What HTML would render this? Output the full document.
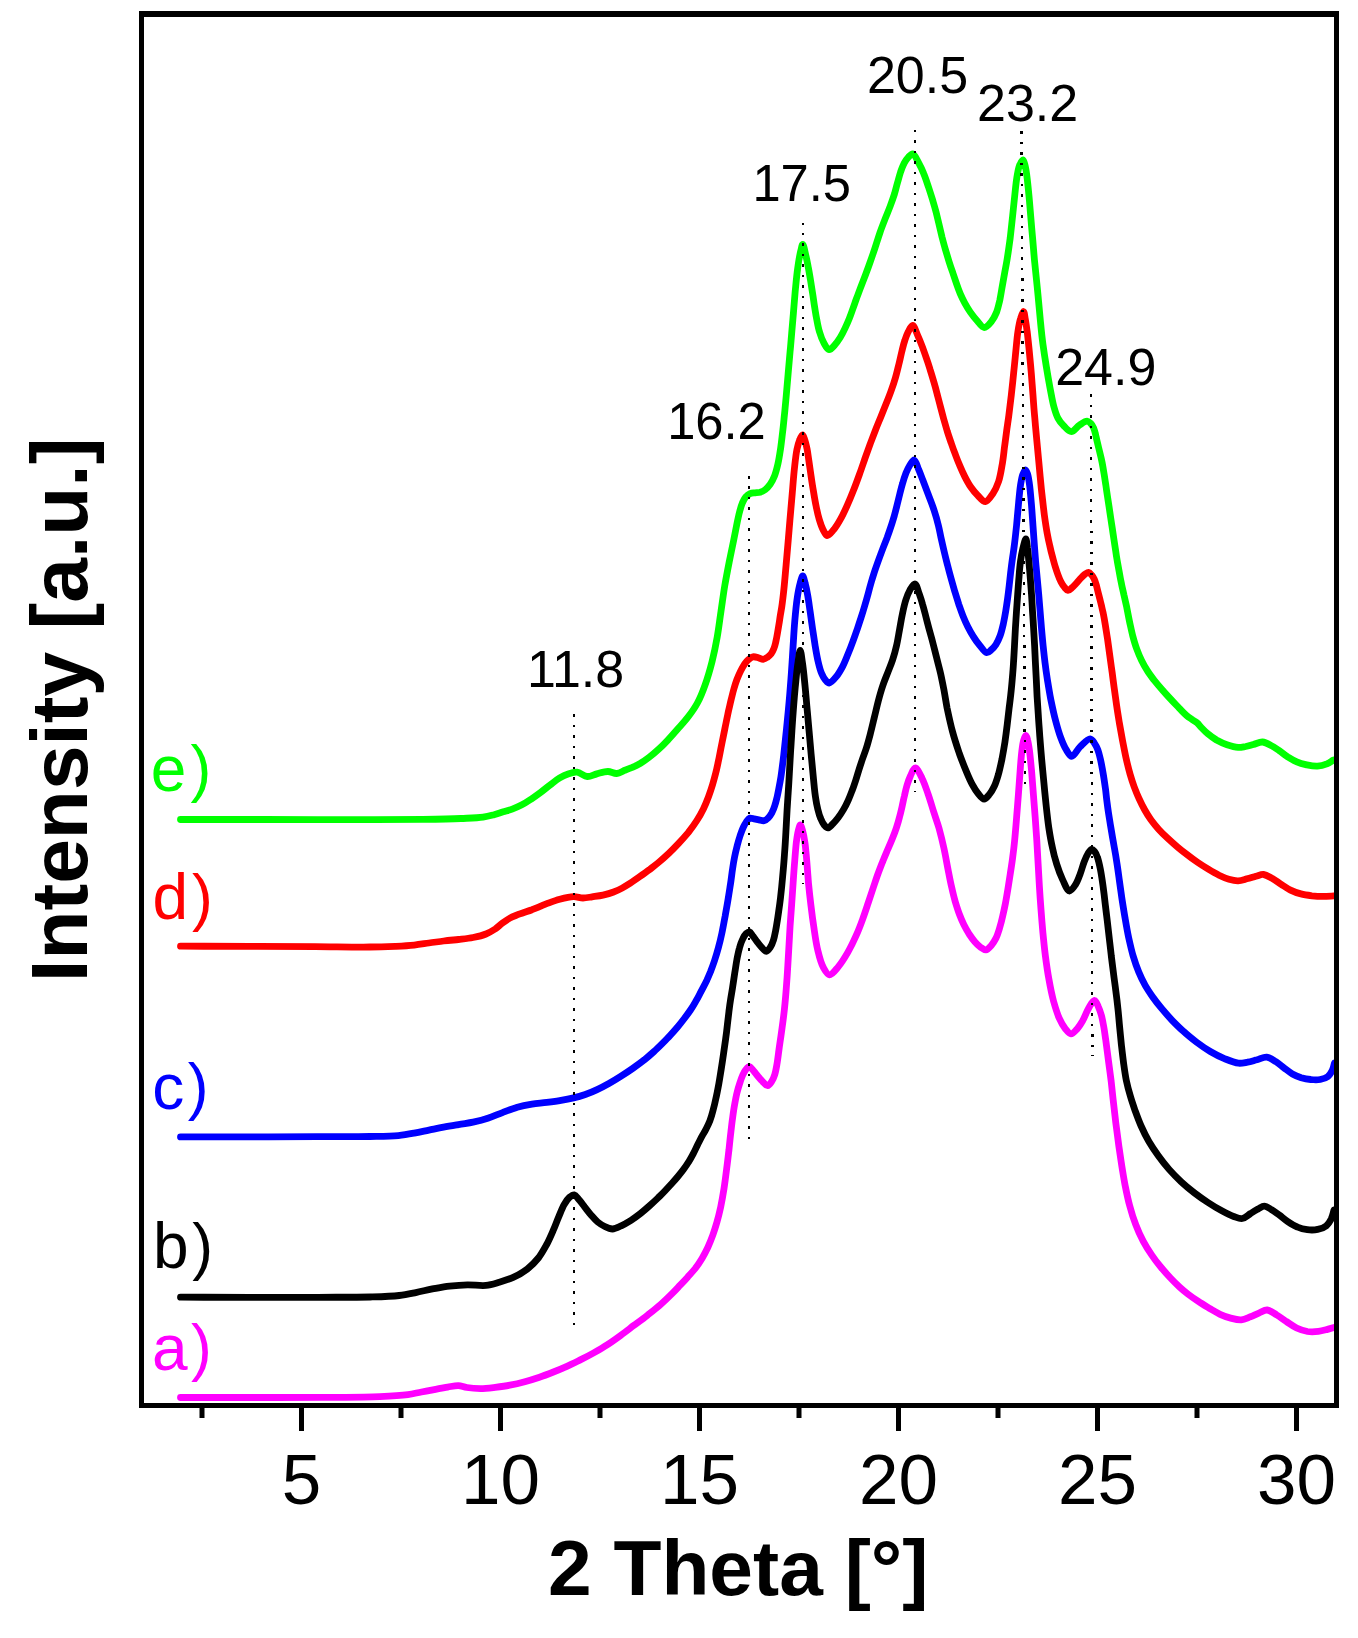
<!DOCTYPE html>
<html><head><meta charset="utf-8"><title>XRD patterns</title>
<style>
html,body{margin:0;padding:0;background:#fff;}
svg{display:block;}
text{font-family:"Liberation Sans",sans-serif;}
</style></head>
<body>
<svg width="1358" height="1638" viewBox="0 0 1358 1638">
<rect width="1358" height="1638" fill="#fff"/>
<defs><clipPath id="pc"><rect x="144" y="17" width="1190" height="1386"/></clipPath></defs>
<g clip-path="url(#pc)" fill="none" stroke-width="6.8" stroke-linejoin="round" stroke-linecap="round">
<path d="M180.5 819.5C203.7 819.5 227.1 819.5 250.1 819.5C272.8 819.5 295.9 819.6 317.5 819.6C337.4 819.6 356.7 819.6 374.9 819.6C391.5 819.6 407.3 819.6 422.3 819.4C435.8 819.2 449.7 819.0 460.8 818.5C469.2 818.1 477.0 818.0 483.1 817.1C487.4 816.5 490.6 815.6 494.1 814.7C497.4 813.8 500.3 812.7 503.3 811.8C506.3 810.9 509.2 810.2 512.2 809.1C515.2 808.0 518.3 806.7 521.4 805.1C524.6 803.5 527.8 801.4 530.9 799.3C534.2 797.2 537.3 794.9 540.5 792.5C543.7 790.1 546.9 787.4 550.1 785.0C553.2 782.6 556.2 780.0 559.3 778.1C562.2 776.4 565.1 774.9 568.1 773.9C571.0 772.9 574.0 771.9 577.0 772.2C580.4 772.5 583.9 776.3 587.3 776.5C590.5 776.7 593.5 774.7 596.8 773.9C600.4 773.0 604.4 771.5 607.9 771.5C611.0 771.5 613.8 773.7 616.7 773.5C619.5 773.3 622.3 771.3 625.0 770.2C627.5 769.3 629.8 768.4 632.3 767.4C634.9 766.2 637.4 765.0 640.1 763.5C643.1 761.7 646.3 759.4 649.3 757.1C652.5 754.7 655.6 752.1 658.6 749.3C661.7 746.5 664.6 743.5 667.6 740.3C670.9 736.8 674.3 732.9 677.7 729.0C681.2 725.1 685.0 721.1 688.2 716.8C691.5 712.5 694.7 708.1 697.4 703.0C700.4 697.5 702.9 691.2 705.2 684.6C707.8 677.5 710.0 669.7 712.0 661.9C714.0 653.8 715.7 645.5 717.2 637.1C718.7 628.6 719.7 619.8 721.0 611.2C722.3 602.6 723.4 593.8 724.8 585.5C726.2 577.5 727.7 569.7 729.2 562.0C730.7 554.6 732.3 547.0 733.7 540.1C735.0 533.7 736.2 527.3 737.3 521.9C738.2 517.7 738.9 514.0 739.9 510.6C740.7 507.7 741.4 505.2 742.4 502.9C743.4 500.7 744.4 498.4 745.8 496.9C747.0 495.5 748.5 494.3 750.1 493.6C751.6 493.0 753.4 493.0 755.0 492.8C756.7 492.6 758.5 492.7 760.2 492.2C761.9 491.6 763.7 490.8 765.3 489.6C767.1 488.3 768.7 486.4 770.2 484.3C771.9 481.9 773.3 479.0 774.5 476.0C775.9 472.4 776.9 468.3 777.9 464.0C779.0 459.2 779.8 453.7 780.6 448.4C781.4 442.8 782.0 437.0 782.7 431.3C783.4 425.6 783.9 420.0 784.5 414.2C785.1 408.3 785.6 402.5 786.2 396.2C786.8 389.3 787.4 382.0 788.1 374.3C788.8 365.8 789.6 356.4 790.5 347.2C791.3 337.6 792.2 327.4 793.0 317.9C793.8 308.8 794.5 299.4 795.2 291.3C795.9 284.3 796.5 277.7 797.2 272.0C797.8 267.4 798.3 263.3 799.0 259.5C799.6 256.3 800.1 253.4 800.8 250.7C801.4 248.4 802.0 244.5 802.7 244.5C803.7 244.5 805.0 252.1 806.0 256.1C807.0 260.1 807.7 264.3 808.5 268.5C809.3 272.7 810.0 277.0 810.7 281.3C811.4 285.6 812.0 289.8 812.7 294.1C813.4 298.4 813.9 302.6 814.6 306.9C815.3 311.2 815.9 315.5 816.8 319.7C817.6 323.9 818.3 328.2 819.6 332.1C820.7 335.8 821.9 339.4 823.6 342.4C825.2 345.2 827.1 349.5 829.1 349.7C830.9 349.9 833.1 346.8 834.8 344.9C836.8 342.8 838.5 340.2 840.2 337.5C842.0 334.6 843.6 331.3 845.1 328.1C846.6 324.9 848.1 321.5 849.4 318.2C850.7 315.0 851.8 311.7 853.0 308.4C854.2 305.2 855.2 302.0 856.4 298.8C857.6 295.6 858.8 292.5 860.0 289.2C861.3 285.7 862.7 282.1 864.1 278.5C865.5 274.7 867.0 270.9 868.4 267.0C869.8 263.0 871.3 259.0 872.6 255.0C874.0 251.0 875.3 247.1 876.5 243.2C877.8 239.3 879.0 235.5 880.3 231.6C881.8 227.4 883.5 223.1 885.1 218.9C886.8 214.6 888.7 210.2 890.3 205.9C891.8 201.9 893.2 197.9 894.5 193.9C895.6 190.1 896.5 186.2 897.6 182.4C898.6 178.9 899.5 175.3 900.6 172.0C901.7 168.9 902.8 165.8 904.2 163.2C905.5 160.9 906.8 158.7 908.4 157.1C909.7 155.7 911.4 153.6 912.8 153.9C914.9 154.3 917.0 159.9 918.8 163.2C920.7 166.6 922.4 170.3 923.9 174.1C925.6 178.1 927.0 182.6 928.4 186.8C929.8 191.1 931.2 195.4 932.5 199.6C933.7 203.7 934.9 207.7 936.0 211.8C937.0 215.9 938.0 220.0 939.0 224.2C940.0 228.5 941.0 232.8 942.0 237.0C943.1 241.2 944.2 245.4 945.4 249.5C946.6 253.5 947.8 257.5 949.0 261.4C950.2 265.2 951.5 269.0 952.8 272.7C954.0 276.3 955.2 279.9 956.4 283.4C957.6 286.9 958.8 290.3 960.2 293.6C961.6 296.8 963.1 300.0 964.8 303.1C966.5 306.2 968.3 309.2 970.3 312.1C972.3 314.9 974.4 317.7 976.7 320.2C979.0 322.8 981.7 327.4 984.2 327.5C986.6 327.6 989.5 323.9 991.5 321.4C993.6 318.8 995.2 315.5 996.6 312.1C998.0 308.5 998.8 304.3 999.8 300.2C1000.7 295.9 1001.4 291.2 1002.2 286.6C1003.0 282.0 1003.8 277.4 1004.7 272.6C1005.6 267.7 1006.6 262.8 1007.4 257.4C1008.4 251.4 1009.3 244.7 1010.2 238.0C1011.0 230.9 1011.8 223.3 1012.6 216.0C1013.4 208.7 1014.1 201.0 1014.9 194.0C1015.6 187.5 1016.2 180.7 1017.2 175.4C1017.9 171.3 1018.5 167.5 1019.8 164.8C1020.7 162.8 1022.1 159.9 1023.0 160.0C1023.8 160.1 1024.3 162.8 1024.9 164.8C1025.7 167.6 1026.2 171.3 1026.8 175.4C1027.5 180.7 1028.2 187.5 1028.8 194.0C1029.5 201.0 1030.1 208.7 1030.7 216.0C1031.3 223.3 1031.9 230.7 1032.6 238.0C1033.2 245.2 1033.8 252.4 1034.4 259.5C1035.1 266.4 1035.8 273.2 1036.5 280.0C1037.2 286.8 1037.9 293.6 1038.5 300.5C1039.2 307.6 1039.8 314.8 1040.5 322.0C1041.2 329.3 1041.9 336.7 1042.9 344.0C1043.9 351.3 1045.0 358.6 1046.2 365.9C1047.4 373.3 1048.7 380.9 1050.0 387.9C1051.3 394.3 1052.3 401.0 1053.8 406.4C1055.0 410.8 1056.1 414.7 1057.9 418.1C1059.4 421.0 1061.4 423.4 1063.6 425.6C1065.8 427.9 1068.7 431.6 1071.3 431.6C1074.0 431.6 1076.7 426.9 1079.5 425.1C1082.0 423.5 1085.0 421.1 1087.1 421.2C1088.6 421.3 1089.7 422.4 1090.8 423.5C1091.9 424.6 1092.8 426.2 1093.6 427.9C1094.4 429.7 1094.9 432.0 1095.5 434.2C1096.1 436.7 1096.6 439.3 1097.3 442.1C1098.0 445.2 1098.9 448.6 1099.7 452.0C1100.6 455.6 1101.5 459.3 1102.2 463.0C1102.9 466.7 1103.5 470.3 1104.1 474.0C1104.7 477.6 1105.2 481.3 1105.8 484.9C1106.3 488.6 1106.9 492.2 1107.4 495.9C1108.0 499.6 1108.5 503.2 1109.1 506.9C1109.6 510.6 1110.2 514.2 1110.7 517.9C1111.3 521.6 1111.8 525.2 1112.4 528.9C1112.9 532.6 1113.5 536.2 1114.0 539.9C1114.6 543.6 1115.1 547.2 1115.7 550.9C1116.2 554.6 1116.8 558.2 1117.4 561.9C1118.1 565.6 1118.7 569.2 1119.4 572.9C1120.0 576.5 1120.7 580.2 1121.5 583.8C1122.2 587.5 1123.1 591.0 1123.9 594.8C1124.8 598.8 1125.7 602.8 1126.7 607.1C1127.6 611.7 1128.5 616.7 1129.5 621.5C1130.6 626.4 1131.6 631.4 1132.8 636.1C1134.0 640.6 1135.2 644.9 1136.8 649.1C1138.2 653.0 1139.8 656.8 1141.6 660.4C1143.3 663.9 1145.2 667.3 1147.3 670.6C1149.4 674.0 1151.8 677.1 1154.2 680.3C1156.7 683.5 1159.4 686.6 1162.2 689.7C1164.9 692.9 1167.8 696.0 1170.7 699.1C1173.5 702.2 1176.5 705.3 1179.2 708.2C1181.8 710.8 1184.3 713.6 1186.7 715.6C1188.7 717.3 1190.7 718.5 1192.5 719.8C1194.1 720.8 1195.5 721.5 1196.9 722.7C1198.5 724.0 1199.7 725.8 1201.3 727.5C1203.2 729.5 1205.3 731.7 1207.7 733.7C1210.3 735.9 1213.4 738.1 1216.5 740.0C1219.8 741.8 1223.4 743.6 1227.0 744.8C1230.6 746.0 1234.7 747.2 1238.1 747.4C1240.8 747.6 1243.2 746.9 1245.7 746.5C1248.3 746.0 1250.7 745.2 1253.4 744.5C1256.3 743.7 1259.6 741.8 1262.5 742.0C1265.4 742.2 1268.3 744.0 1271.0 745.5C1273.9 746.9 1276.5 748.9 1279.2 750.7C1282.1 752.7 1284.8 755.0 1287.7 756.9C1290.6 758.7 1293.6 760.5 1296.8 761.9C1299.9 763.2 1303.3 764.1 1306.7 764.9C1310.1 765.6 1313.9 766.4 1317.4 766.2C1320.7 766.0 1324.1 765.0 1326.9 763.9C1329.4 762.8 1331.3 761.3 1333.5 760.0" stroke="#00ff00"/>
<path d="M180.5 946.2C203.7 946.2 227.3 946.3 250.1 946.3C272.1 946.4 294.3 946.5 315.0 946.6C334.1 946.7 355.1 947.2 370.0 947.0C380.2 946.9 387.9 946.6 395.8 946.3C402.5 946.0 408.4 945.7 414.2 945.1C419.4 944.5 424.0 943.7 428.9 943.0C433.8 942.4 438.7 941.6 443.6 941.0C448.5 940.4 453.5 940.0 458.4 939.5C463.3 938.9 468.4 938.4 473.1 937.5C477.6 936.6 482.1 935.6 486.0 934.0C489.4 932.7 492.4 930.8 495.2 929.0C497.8 927.2 500.0 924.9 502.5 923.1C504.9 921.3 507.2 919.6 509.9 918.1C512.7 916.6 515.8 915.6 519.1 914.2C523.0 912.7 527.6 911.3 532.0 909.7C536.6 907.9 541.5 905.7 546.2 903.9C550.8 902.2 555.2 900.4 559.8 899.2C564.3 898.0 569.4 896.7 573.6 896.6C577.0 896.5 579.9 898.0 583.0 898.0C586.1 898.0 588.9 897.3 592.1 896.8C595.6 896.3 599.4 895.9 603.0 895.1C606.6 894.3 610.3 893.3 613.6 892.0C616.7 890.9 619.4 889.6 622.1 888.1C624.9 886.6 627.5 885.0 630.3 883.2C633.3 881.2 636.4 879.0 639.5 876.8C642.8 874.5 646.1 872.2 649.3 869.8C652.6 867.2 655.9 864.7 659.1 862.0C662.4 859.2 665.7 856.2 668.9 853.2C672.2 850.0 675.4 846.7 678.6 843.3C681.9 839.9 685.1 836.3 688.2 832.6C691.2 828.8 694.1 824.9 696.7 820.8C699.2 816.9 701.5 812.8 703.5 808.7C705.5 804.6 707.1 800.5 708.6 796.5C710.1 792.5 711.4 788.6 712.6 784.6C713.7 780.8 714.7 777.1 715.7 773.2C716.7 769.3 717.5 765.2 718.4 761.1C719.3 756.9 720.1 752.6 720.9 748.3C721.8 744.0 722.6 739.8 723.5 735.5C724.4 731.2 725.2 726.8 726.1 722.6C726.9 718.5 727.8 714.4 728.6 710.5C729.5 706.7 730.3 703.0 731.2 699.4C732.1 695.8 732.9 692.3 733.9 688.9C734.8 685.7 735.8 682.5 736.9 679.5C738.0 676.7 739.1 674.0 740.4 671.4C741.6 668.9 743.0 666.4 744.4 664.3C745.7 662.5 747.2 660.7 748.7 659.4C750.0 658.2 751.4 657.1 753.0 656.8C754.7 656.5 757.1 657.5 758.9 658.0C760.4 658.4 761.8 659.4 763.2 659.3C764.6 659.2 766.1 658.2 767.4 657.3C768.8 656.4 770.0 655.2 771.1 653.9C772.2 652.3 773.1 650.5 773.9 648.5C774.8 646.4 775.3 643.9 775.9 641.4C776.5 638.7 777.0 635.9 777.5 633.0C778.0 630.1 778.5 627.0 779.0 624.0C779.5 621.0 779.9 617.8 780.4 614.9C780.9 612.1 781.3 609.7 781.8 606.6C782.4 602.6 782.9 598.3 783.5 592.9C784.4 585.3 785.2 575.0 786.1 565.1C787.1 553.8 788.2 540.7 789.2 528.7C790.2 516.9 791.2 504.7 792.2 493.9C793.0 484.3 793.7 474.8 794.6 466.9C795.3 460.4 795.9 454.5 796.9 449.6C797.7 445.9 798.5 442.7 799.6 440.1C800.4 438.0 801.6 434.8 802.5 434.8C803.4 434.8 804.1 438.0 804.8 439.9C805.7 442.4 806.3 445.4 807.0 448.6C807.8 452.5 808.3 457.2 809.0 461.6C809.7 466.4 810.4 471.4 811.1 476.3C811.8 481.2 812.5 486.0 813.4 490.9C814.2 495.8 815.0 500.8 816.0 505.6C816.9 510.2 818.0 515.1 819.2 519.3C820.3 523.0 821.5 526.7 823.0 529.6C824.2 531.9 825.5 535.4 827.2 535.6C829.1 535.8 831.7 532.0 833.8 529.6C836.2 526.7 838.4 523.0 840.5 519.2C842.9 515.0 845.1 510.1 847.2 505.4C849.4 500.5 851.5 495.4 853.5 490.3C855.6 485.1 857.5 479.8 859.4 474.5C861.3 469.3 863.1 463.9 864.9 458.7C866.7 453.6 868.5 448.5 870.3 443.6C872.1 438.8 873.9 434.1 875.7 429.5C877.4 425.0 879.3 420.7 881.0 416.4C882.8 412.1 884.5 407.9 886.2 403.6C887.9 399.4 889.6 395.2 891.1 390.9C892.7 386.5 894.2 382.0 895.5 377.5C896.8 372.9 897.9 368.2 899.0 363.7C900.1 359.4 900.9 355.2 901.9 351.2C902.8 347.5 903.6 343.9 904.8 340.5C905.8 337.4 906.9 334.4 908.2 331.8C909.5 329.4 911.2 325.3 912.6 325.4C914.3 325.5 916.2 332.1 917.8 335.6C919.4 339.1 920.8 342.7 922.2 346.4C923.6 350.1 924.9 353.9 926.2 357.7C927.6 361.6 928.9 365.6 930.1 369.6C931.4 373.6 932.6 377.7 933.8 381.8C935.0 385.8 936.1 389.9 937.1 393.9C938.2 398.0 939.3 402.0 940.3 406.1C941.4 410.2 942.5 414.4 943.6 418.6C944.8 422.8 946.0 427.0 947.2 431.1C948.5 435.1 949.8 439.1 951.2 443.0C952.5 446.9 953.9 450.8 955.4 454.6C956.8 458.4 958.3 462.2 959.9 465.9C961.4 469.5 963.0 473.1 964.8 476.6C966.6 480.1 968.4 483.6 970.6 486.8C972.7 489.8 975.0 492.8 977.6 495.3C980.0 497.7 982.9 501.8 985.4 501.6C988.0 501.4 990.8 496.7 992.9 493.6C995.3 490.1 997.1 485.9 998.6 481.5C1000.2 476.7 1001.1 471.1 1002.0 465.6C1003.1 459.9 1003.7 453.7 1004.4 447.9C1005.2 442.3 1005.9 436.8 1006.6 431.3C1007.3 425.8 1008.2 420.7 1008.9 414.9C1009.7 408.7 1010.5 402.0 1011.3 395.2C1012.1 388.1 1012.9 380.6 1013.6 373.3C1014.4 366.0 1015.1 358.4 1015.8 351.3C1016.5 344.6 1017.0 337.6 1017.9 331.7C1018.6 326.9 1019.3 322.4 1020.5 318.7C1021.3 315.9 1022.7 311.4 1023.5 311.5C1024.3 311.6 1024.7 315.9 1025.2 318.7C1025.9 322.4 1026.5 326.9 1027.2 331.7C1027.9 337.6 1028.6 344.6 1029.3 351.3C1030.0 358.4 1030.7 366.0 1031.3 373.3C1031.9 380.6 1032.4 387.9 1033.0 395.2C1033.5 402.5 1034.0 409.7 1034.7 416.9C1035.3 424.1 1035.9 431.0 1036.6 438.3C1037.3 446.0 1038.0 453.7 1038.8 461.8C1039.6 470.6 1040.5 480.3 1041.4 489.3C1042.4 498.1 1043.4 507.5 1044.4 515.4C1045.3 521.9 1046.2 528.0 1047.2 533.4C1048.0 537.9 1048.8 541.7 1049.8 545.7C1050.6 549.5 1051.5 553.2 1052.5 556.7C1053.4 560.1 1054.2 563.4 1055.2 566.5C1056.1 569.4 1057.0 572.2 1058.0 574.9C1058.9 577.4 1059.9 579.9 1061.1 582.1C1062.1 584.0 1063.2 585.9 1064.5 587.3C1065.6 588.6 1066.7 590.3 1068.0 590.4C1069.3 590.5 1070.8 588.8 1072.1 587.6C1073.6 586.4 1075.0 584.8 1076.4 583.3C1077.9 581.7 1079.3 579.7 1080.8 578.2C1082.2 576.7 1083.6 575.3 1084.9 574.3C1086.1 573.5 1087.5 572.3 1088.6 572.4C1089.8 572.5 1090.9 574.1 1091.8 575.2C1092.8 576.4 1093.6 577.8 1094.3 579.3C1095.1 581.1 1095.7 583.1 1096.3 585.1C1096.9 587.2 1097.4 589.5 1098.0 591.8C1098.6 594.2 1099.2 596.5 1099.8 598.9C1100.4 601.3 1101.0 603.7 1101.6 606.1C1102.1 608.5 1102.6 610.6 1103.2 613.2C1103.8 616.2 1104.4 619.4 1105.0 623.1C1105.8 627.7 1106.6 633.4 1107.5 638.8C1108.3 644.5 1109.1 650.5 1109.9 656.3C1110.7 661.9 1111.4 667.3 1112.2 672.8C1112.9 678.3 1113.6 683.9 1114.4 689.4C1115.2 694.9 1115.9 700.5 1116.7 706.0C1117.5 711.5 1118.4 717.0 1119.3 722.6C1120.3 728.4 1121.4 734.4 1122.5 740.4C1123.7 746.5 1124.9 752.9 1126.2 758.8C1127.4 764.1 1128.7 769.3 1130.1 774.2C1131.4 778.6 1132.7 782.8 1134.2 786.9C1135.7 790.9 1137.2 794.7 1139.0 798.5C1140.7 802.2 1142.5 805.9 1144.5 809.5C1146.5 813.1 1148.7 816.7 1151.1 820.0C1153.5 823.3 1156.1 826.4 1158.8 829.4C1161.6 832.5 1164.6 835.4 1167.7 838.3C1170.8 841.2 1174.0 844.1 1177.3 846.8C1180.6 849.6 1183.9 852.2 1187.3 854.8C1190.6 857.4 1194.0 859.9 1197.5 862.3C1201.0 864.7 1204.7 867.0 1208.3 869.2C1211.8 871.3 1215.5 873.5 1219.0 875.2C1222.3 876.8 1225.7 878.3 1228.9 879.2C1232.0 880.1 1235.1 880.9 1238.1 880.8C1241.0 880.7 1243.9 879.6 1246.8 878.8C1249.8 878.1 1253.0 877.0 1255.9 876.2C1258.6 875.6 1261.0 874.2 1263.6 874.5C1266.5 874.8 1269.5 877.0 1272.4 878.5C1275.4 880.2 1278.2 882.4 1281.2 884.3C1284.3 886.3 1287.2 888.5 1290.5 890.1C1293.8 891.7 1297.4 893.0 1300.9 893.9C1304.5 894.8 1308.2 895.3 1311.9 895.8C1315.6 896.2 1319.2 896.4 1322.9 896.4C1326.6 896.4 1330.3 896.1 1334.0 895.9" stroke="#ff0000"/>
<path d="M180.5 1136.9C203.7 1136.9 227.1 1136.8 250.1 1136.8C272.8 1136.8 296.5 1136.7 317.5 1136.7C336.1 1136.6 355.1 1136.8 369.9 1136.5C380.8 1136.3 390.2 1136.3 398.3 1135.6C404.4 1135.0 409.0 1134.1 414.2 1133.1C419.2 1132.2 424.0 1131.1 428.9 1130.1C433.8 1129.1 438.7 1128.0 443.6 1127.1C448.5 1126.2 453.5 1125.4 458.4 1124.6C463.3 1123.7 468.2 1123.2 473.1 1122.2C478.0 1121.1 482.9 1119.9 487.8 1118.3C492.8 1116.7 497.6 1114.4 502.5 1112.6C507.4 1110.7 512.3 1108.7 517.3 1107.2C522.1 1105.9 527.1 1105.0 532.0 1104.2C536.9 1103.4 541.9 1103.1 546.8 1102.4C551.6 1101.8 556.4 1101.2 561.0 1100.4C565.3 1099.7 569.5 1098.9 573.6 1097.9C577.6 1097.0 581.4 1095.9 585.3 1094.5C589.3 1093.1 593.2 1091.5 597.1 1089.6C601.1 1087.8 605.0 1085.7 608.9 1083.5C612.9 1081.3 616.8 1078.9 620.7 1076.4C624.7 1073.9 628.8 1071.2 632.8 1068.4C636.7 1065.6 640.7 1062.7 644.4 1059.8C647.8 1057.0 650.9 1054.3 653.9 1051.6C656.8 1049.0 659.5 1046.3 662.2 1043.6C664.9 1040.9 667.7 1038.1 670.3 1035.2C672.9 1032.4 675.4 1029.5 677.8 1026.7C680.2 1023.9 682.4 1021.1 684.5 1018.3C686.6 1015.5 688.6 1012.8 690.5 1010.0C692.3 1007.3 694.0 1004.5 695.5 1001.8C697.1 999.1 698.5 996.5 699.8 993.9C701.1 991.5 702.3 989.2 703.5 986.9C704.7 984.5 705.8 982.3 707.0 979.9C708.2 977.3 709.3 974.7 710.5 971.8C711.8 968.4 713.1 964.8 714.4 961.0C715.8 956.8 717.2 952.2 718.4 947.7C719.7 943.0 720.8 938.2 721.9 933.1C723.0 927.8 724.0 922.1 725.1 916.4C726.1 910.5 727.3 904.3 728.2 898.5C729.1 893.1 729.9 887.7 730.7 882.6C731.4 877.8 731.9 873.2 732.6 868.8C733.2 864.7 733.8 860.8 734.6 856.9C735.3 853.2 736.2 849.6 737.1 846.1C738.0 842.7 738.9 839.2 740.0 836.0C741.0 833.1 742.0 830.1 743.2 827.5C744.2 825.3 745.3 823.3 746.5 821.6C747.5 820.2 748.5 818.5 749.8 818.1C751.0 817.7 752.6 818.6 754.1 818.9C755.7 819.2 757.3 819.5 759.0 819.8C760.7 820.1 762.5 821.0 764.1 820.7C765.6 820.4 767.0 819.1 768.3 817.8C769.7 816.4 770.9 814.6 772.0 812.6C773.1 810.4 774.1 807.8 774.9 805.2C775.8 802.6 776.4 799.8 777.1 797.0C777.8 794.2 778.2 791.6 778.8 788.6C779.5 785.1 780.2 781.6 780.9 777.1C781.8 771.1 782.7 763.5 783.7 755.5C784.8 745.8 786.0 734.1 787.1 722.8C788.3 710.8 789.5 697.9 790.4 685.7C791.4 673.9 792.1 661.9 792.8 650.7C793.5 640.4 794.0 630.1 794.8 620.8C795.5 612.5 796.3 604.2 797.3 597.4C798.1 592.1 799.0 587.2 800.1 583.3C800.9 580.5 801.9 576.0 802.7 576.0C803.6 576.0 804.5 580.7 805.2 583.5C806.2 587.0 807.0 591.2 807.7 595.4C808.6 600.3 809.3 605.9 810.1 611.3C810.9 616.9 811.7 622.7 812.5 628.4C813.4 634.1 814.2 639.9 815.1 645.5C816.0 650.9 816.9 656.6 818.1 661.5C819.1 665.9 820.2 670.3 821.7 673.6C822.8 676.2 824.0 678.5 825.5 680.1C826.6 681.4 827.8 683.1 829.2 683.1C831.2 683.0 834.3 679.1 836.5 676.4C838.8 673.6 840.8 670.0 842.7 666.4C844.7 662.5 846.3 658.2 848.0 654.0C849.8 649.7 851.5 645.2 853.1 640.8C854.7 636.5 856.2 632.1 857.6 628.1C858.9 624.3 860.0 620.8 861.2 617.1C862.4 613.5 863.5 609.9 864.6 606.1C865.8 602.1 867.0 597.9 868.1 593.8C869.2 589.6 870.3 585.5 871.5 581.4C872.7 577.4 873.9 573.4 875.2 569.6C876.5 565.8 877.8 562.2 879.1 558.6C880.4 555.0 881.7 551.6 883.0 548.1C884.4 544.6 885.8 541.0 887.2 537.4C888.5 533.8 889.8 530.1 891.0 526.4C892.2 522.8 893.3 519.1 894.4 515.4C895.4 511.8 896.3 508.1 897.2 504.5C898.1 500.8 899.0 497.1 899.9 493.5C900.8 490.0 901.7 486.4 902.7 483.1C903.6 479.8 904.6 476.5 905.8 473.4C907.0 470.6 908.3 467.7 909.8 465.3C911.1 463.3 912.9 459.8 914.2 460.0C915.8 460.2 917.2 466.0 918.6 469.3C920.1 472.7 921.3 476.3 922.8 480.1C924.4 484.4 926.2 489.0 928.0 493.8C929.9 499.0 932.3 504.7 934.0 510.1C935.7 515.3 937.2 520.5 938.4 525.5C939.6 530.2 940.3 534.6 941.3 539.1C942.3 543.6 943.3 548.0 944.4 552.5C945.4 556.9 946.6 561.4 947.7 565.8C948.8 570.2 950.0 574.6 951.2 578.9C952.4 583.2 953.6 587.4 954.8 591.6C956.1 595.8 957.4 600.0 958.7 604.1C960.1 608.1 961.4 612.0 962.9 615.7C964.4 619.4 966.0 623.0 967.7 626.5C969.4 629.9 971.3 633.4 973.4 636.6C975.3 639.7 977.5 642.8 979.8 645.5C982.0 648.1 984.5 652.4 986.7 652.7C988.3 652.9 989.8 651.1 991.2 649.9C992.9 648.5 994.5 646.7 995.9 644.6C997.5 642.2 998.9 639.0 1000.1 635.8C1001.4 632.3 1002.3 628.1 1003.3 624.1C1004.2 619.9 1005.0 615.6 1005.7 611.3C1006.4 607.0 1007.0 602.8 1007.6 598.5C1008.2 594.2 1008.7 589.9 1009.2 585.6C1009.7 581.4 1010.1 577.1 1010.6 572.8C1011.1 568.6 1011.6 564.5 1012.2 560.2C1012.8 555.5 1013.7 550.7 1014.3 545.5C1015.1 539.4 1015.8 532.7 1016.5 526.0C1017.2 518.9 1017.8 511.0 1018.5 504.0C1019.1 497.5 1019.7 490.6 1020.5 485.2C1021.2 481.1 1021.7 477.2 1022.8 474.4C1023.5 472.5 1024.7 469.8 1025.5 469.8C1026.3 469.8 1027.1 472.5 1027.7 474.4C1028.6 477.3 1029.0 481.1 1029.6 485.2C1030.3 490.6 1030.8 497.5 1031.4 504.0C1032.0 511.0 1032.5 518.9 1033.0 526.0C1033.5 532.7 1034.0 539.3 1034.4 545.5C1034.8 551.0 1035.2 556.0 1035.6 561.2C1036.1 566.5 1036.6 571.7 1037.1 577.1C1037.6 582.7 1038.2 588.5 1038.7 594.2C1039.2 599.9 1039.6 605.6 1040.1 611.3C1040.6 617.0 1041.0 622.7 1041.5 628.4C1042.0 634.1 1042.5 639.8 1043.1 645.5C1043.7 651.2 1044.3 656.9 1045.0 662.6C1045.7 668.3 1046.5 673.9 1047.4 679.7C1048.4 685.8 1049.4 692.1 1050.6 698.5C1052.0 705.2 1053.5 712.5 1055.2 719.2C1056.9 725.5 1058.6 732.1 1060.7 737.5C1062.4 742.1 1064.1 746.4 1066.2 749.7C1067.9 752.4 1069.7 756.4 1071.7 756.4C1074.2 756.4 1077.0 749.8 1080.0 746.9C1083.1 744.0 1087.4 738.8 1090.1 738.9C1092.0 739.0 1093.4 741.6 1094.6 743.4C1096.0 745.3 1097.0 747.6 1097.9 750.0C1098.9 752.7 1099.6 755.7 1100.3 758.7C1101.1 761.9 1101.7 765.3 1102.3 768.7C1102.9 772.0 1103.5 775.4 1104.0 778.8C1104.5 782.2 1105.0 785.6 1105.5 789.1C1106.0 792.8 1106.3 796.6 1106.8 800.4C1107.3 804.3 1107.8 808.3 1108.4 812.3C1109.0 816.3 1109.7 820.2 1110.3 824.2C1111.0 828.2 1111.6 832.1 1112.3 836.1C1113.0 840.1 1113.7 843.9 1114.4 848.0C1115.2 852.4 1116.0 856.9 1116.7 861.8C1117.6 867.3 1118.4 873.3 1119.2 879.2C1120.1 885.5 1121.0 892.1 1121.9 898.5C1122.9 904.9 1123.9 911.3 1125.0 917.7C1126.1 924.1 1127.2 930.6 1128.5 936.9C1129.9 943.2 1131.3 949.6 1133.0 955.5C1134.7 961.2 1136.5 966.7 1138.7 971.9C1140.6 976.6 1142.8 981.0 1145.2 985.3C1147.6 989.5 1150.2 993.3 1152.9 997.2C1155.7 1001.1 1158.7 1004.9 1161.8 1008.7C1165.1 1012.6 1168.5 1016.5 1172.1 1020.3C1175.8 1024.1 1179.6 1027.9 1183.7 1031.5C1187.7 1035.2 1192.1 1038.7 1196.5 1042.1C1200.9 1045.4 1205.6 1048.7 1210.3 1051.5C1214.9 1054.2 1219.6 1056.6 1224.4 1058.6C1229.0 1060.5 1234.3 1062.8 1238.5 1063.2C1241.8 1063.5 1244.5 1062.7 1247.5 1062.2C1250.6 1061.6 1253.8 1060.6 1257.0 1059.8C1260.2 1058.9 1263.6 1056.8 1266.7 1057.1C1269.9 1057.4 1273.0 1059.9 1275.9 1061.7C1278.8 1063.5 1281.4 1065.9 1284.1 1067.9C1286.9 1070.0 1289.5 1072.3 1292.4 1073.9C1295.2 1075.5 1298.2 1076.7 1301.2 1077.7C1304.3 1078.6 1307.5 1079.2 1310.7 1079.5C1313.8 1079.9 1317.2 1080.1 1320.2 1079.5C1322.9 1079.0 1325.8 1078.2 1327.8 1076.6C1329.7 1075.1 1331.1 1072.7 1332.2 1070.5C1333.4 1068.2 1333.7 1065.5 1334.5 1063.0" stroke="#0000ff"/>
<path d="M180.5 1297.2C203.7 1297.2 227.1 1297.3 250.1 1297.3C272.8 1297.3 296.4 1297.4 317.5 1297.3C336.2 1297.2 355.3 1297.4 370.3 1297.0C381.4 1296.7 390.9 1296.5 399.2 1295.5C405.5 1294.8 410.3 1293.7 415.8 1292.6C421.3 1291.5 426.8 1290.0 432.4 1288.9C438.1 1287.9 443.8 1286.8 449.6 1286.1C455.5 1285.4 461.5 1284.9 467.5 1284.8C473.6 1284.7 480.4 1286.0 486.0 1285.4C490.8 1284.9 494.8 1283.5 499.3 1282.2C503.9 1280.9 508.7 1279.5 513.2 1277.4C518.1 1275.2 523.1 1272.3 527.4 1269.0C531.6 1265.7 535.5 1261.6 538.8 1257.5C541.9 1253.4 544.3 1248.9 546.7 1244.5C549.1 1240.0 551.1 1235.3 553.1 1230.7C555.1 1226.1 556.9 1221.1 558.8 1216.6C560.6 1212.4 562.2 1207.9 564.2 1204.5C565.8 1201.7 567.5 1199.1 569.4 1197.4C570.9 1196.1 572.7 1194.6 574.2 1194.8C575.9 1195.1 577.4 1198.0 579.1 1199.8C580.9 1201.9 582.7 1204.4 584.6 1206.9C586.7 1209.5 588.8 1212.4 591.0 1214.9C593.2 1217.4 595.3 1220.0 597.7 1222.0C599.9 1223.8 602.3 1225.3 604.8 1226.5C607.2 1227.7 609.9 1229.0 612.5 1229.0C615.3 1229.0 618.3 1227.2 621.2 1225.8C624.5 1224.3 627.8 1222.3 631.0 1220.3C634.4 1218.1 637.7 1215.6 640.8 1213.2C643.9 1210.7 646.8 1208.2 649.7 1205.6C652.5 1203.1 655.2 1200.6 657.8 1198.1C660.3 1195.6 662.8 1193.2 665.1 1190.7C667.4 1188.3 669.6 1185.9 671.8 1183.5C673.9 1181.2 675.9 1178.9 677.9 1176.5C679.9 1174.1 681.8 1171.8 683.6 1169.3C685.4 1166.9 687.1 1164.4 688.7 1161.8C690.4 1159.2 691.8 1156.5 693.3 1153.7C694.8 1150.9 696.1 1147.9 697.5 1145.0C698.9 1142.2 700.4 1139.4 701.8 1136.6C703.3 1133.9 704.9 1131.4 706.2 1128.7C707.6 1126.0 708.8 1123.5 709.9 1120.7C711.1 1117.6 712.0 1114.4 712.9 1110.9C714.0 1106.9 715.1 1102.4 716.0 1097.9C717.1 1093.2 718.0 1088.2 718.9 1083.3C719.8 1078.4 720.5 1073.5 721.3 1068.6C722.1 1063.7 722.8 1058.9 723.5 1054.0C724.2 1049.1 724.9 1044.2 725.6 1039.3C726.3 1034.4 726.9 1029.4 727.4 1024.7C727.9 1020.3 728.4 1015.9 728.9 1011.8C729.4 1008.0 729.8 1004.6 730.4 1000.8C731.0 996.6 731.8 992.4 732.5 987.9C733.2 983.2 734.0 978.1 734.7 973.3C735.5 968.6 736.1 963.9 736.9 959.5C737.7 955.5 738.4 951.5 739.5 947.9C740.4 944.7 741.4 941.5 742.7 939.0C743.7 936.9 744.9 934.8 746.2 933.6C747.2 932.7 748.4 931.7 749.4 931.9C750.7 932.2 752.0 934.9 753.3 936.5C754.7 938.4 756.0 940.5 757.5 942.3C758.9 944.2 760.4 946.1 761.9 947.6C763.3 949.1 764.9 951.4 766.3 951.3C767.7 951.2 769.2 948.9 770.3 947.3C771.6 945.4 772.6 942.9 773.4 940.3C774.4 937.4 775.0 934.0 775.6 930.8C776.3 927.5 776.8 924.0 777.3 920.7C777.8 917.5 778.2 914.6 778.7 911.2C779.3 907.1 779.9 902.8 780.5 897.8C781.2 891.7 782.0 884.1 782.6 877.0C783.3 869.5 784.0 861.6 784.5 854.0C785.1 846.6 785.5 839.4 785.9 832.0C786.3 824.6 786.7 817.4 787.1 809.6C787.6 801.2 788.2 792.5 788.8 783.2C789.4 772.8 790.0 761.3 790.7 749.9C791.5 738.0 792.2 725.0 793.1 713.3C793.9 702.3 794.8 691.0 795.8 681.6C796.5 674.2 797.2 667.4 798.1 661.7C798.7 657.4 799.5 650.3 800.2 650.3C800.9 650.3 801.7 657.4 802.3 661.7C803.2 667.4 803.9 674.2 804.6 681.6C805.6 691.0 806.5 702.4 807.5 713.3C808.5 724.9 809.7 737.8 810.7 749.3C811.6 759.7 812.6 770.4 813.5 779.1C814.2 786.1 814.7 792.3 815.6 797.7C816.2 802.0 816.9 805.6 817.8 809.2C818.6 812.5 819.5 815.8 820.7 818.5C821.7 820.9 822.8 823.3 824.2 825.0C825.3 826.3 826.5 827.9 827.8 827.9C829.3 827.9 831.0 825.6 832.6 824.1C834.4 822.3 836.3 820.2 838.1 817.8C840.0 815.3 841.9 812.3 843.6 809.4C845.3 806.5 846.8 803.4 848.2 800.3C849.6 797.2 850.8 794.1 852.0 790.9C853.3 787.7 854.4 784.4 855.5 781.0C856.7 777.5 857.7 773.8 858.8 770.2C859.9 766.7 861.1 763.1 862.3 759.5C863.5 755.9 864.9 752.5 866.2 748.5C867.6 744.1 868.9 739.3 870.2 734.3C871.6 729.1 872.9 723.4 874.2 717.9C875.6 712.4 876.8 706.8 878.2 701.4C879.6 696.1 881.1 690.7 882.8 685.7C884.3 681.0 886.2 676.6 887.9 672.2C889.5 668.0 891.2 664.2 892.6 659.9C894.1 655.4 895.4 650.7 896.5 645.8C897.7 640.7 898.5 635.2 899.5 629.9C900.5 624.6 901.3 619.1 902.4 614.0C903.4 609.2 904.4 604.3 905.8 600.0C907.0 596.3 908.4 592.7 910.0 589.9C911.5 587.5 913.5 583.6 914.9 583.8C916.6 584.0 917.8 590.1 919.1 593.4C920.4 597.0 921.6 600.7 922.6 604.4C923.8 608.2 924.7 612.1 925.7 616.0C926.7 619.9 927.7 623.7 928.7 627.6C929.8 631.5 930.8 635.3 931.9 639.2C932.9 643.1 933.9 646.9 934.9 650.8C935.9 654.7 936.8 658.5 937.8 662.4C938.8 666.3 939.8 669.9 940.7 674.0C941.7 678.5 942.6 683.1 943.6 688.2C944.8 694.3 945.8 701.2 947.1 708.1C948.7 715.6 950.4 723.8 952.5 731.5C954.5 739.1 957.1 746.9 959.5 754.0C961.8 760.3 964.2 766.4 966.5 771.9C968.4 776.5 970.2 780.8 972.3 784.5C974.1 787.8 975.8 790.7 977.9 793.2C979.8 795.5 982.1 799.0 984.1 799.0C985.9 799.0 987.8 796.3 989.4 794.4C991.2 792.2 992.9 789.3 994.3 786.3C996.0 782.7 997.2 778.4 998.5 774.1C999.8 769.4 1000.9 764.2 1002.0 759.0C1003.0 753.6 1004.0 747.9 1004.9 742.2C1005.7 736.5 1006.5 730.5 1007.2 724.8C1007.8 719.4 1008.4 714.2 1009.0 709.1C1009.6 704.3 1010.2 699.9 1010.7 695.2C1011.2 690.2 1011.8 685.0 1012.2 679.7C1012.7 674.1 1013.2 668.3 1013.5 662.6C1013.9 656.9 1014.2 651.2 1014.5 645.5C1014.8 639.8 1015.1 634.1 1015.4 628.4C1015.8 622.7 1016.1 617.0 1016.5 611.3C1016.9 605.6 1017.3 599.9 1017.7 594.2C1018.1 588.5 1018.5 582.7 1019.0 577.1C1019.4 571.7 1019.8 566.2 1020.5 561.3C1021.1 556.8 1021.9 552.6 1022.8 548.8C1023.7 545.3 1025.0 539.0 1025.8 539.0C1026.6 539.0 1027.1 544.9 1027.5 548.2C1028.1 552.2 1028.4 556.5 1028.8 561.0C1029.3 566.1 1029.8 571.7 1030.2 577.1C1030.6 582.7 1031.1 588.5 1031.5 594.2C1031.9 599.9 1032.2 605.6 1032.5 611.3C1032.9 617.0 1033.3 622.7 1033.6 628.4C1033.9 634.1 1034.3 639.8 1034.6 645.5C1034.9 651.2 1035.1 656.9 1035.4 662.6C1035.7 668.3 1036.0 674.0 1036.3 679.7C1036.6 685.4 1036.8 690.9 1037.1 696.6C1037.5 702.6 1037.9 708.6 1038.3 714.9C1038.7 721.8 1039.3 729.1 1039.8 736.4C1040.4 744.0 1041.0 751.9 1041.7 759.6C1042.4 767.3 1043.2 775.1 1043.9 782.8C1044.6 790.5 1045.4 798.4 1046.2 806.0C1047.0 813.4 1047.8 820.8 1048.8 827.8C1049.8 834.3 1050.8 840.5 1052.2 846.6C1053.4 852.6 1054.9 858.5 1056.7 864.1C1058.4 869.5 1060.4 875.0 1062.6 879.6C1064.7 883.8 1067.0 890.7 1069.4 891.0C1071.4 891.2 1073.8 887.2 1075.5 884.6C1077.5 881.7 1078.8 877.7 1080.2 873.9C1081.7 870.0 1082.8 865.3 1084.2 861.7C1085.4 858.6 1086.6 855.7 1088.0 853.5C1089.1 851.8 1090.3 849.5 1091.5 849.3C1092.5 849.2 1093.7 850.4 1094.6 851.5C1095.8 852.9 1096.7 855.1 1097.5 857.5C1098.7 860.8 1099.6 865.4 1100.5 869.9C1101.5 875.0 1102.3 880.8 1103.1 886.4C1103.9 892.1 1104.6 898.0 1105.2 903.8C1105.9 909.6 1106.6 915.4 1107.3 921.2C1108.0 927.0 1108.6 932.8 1109.3 938.6C1110.0 944.4 1110.7 950.2 1111.3 956.0C1112.0 961.8 1112.8 967.6 1113.5 973.4C1114.2 979.2 1115.1 985.0 1115.8 990.8C1116.6 996.7 1117.3 1002.5 1117.9 1008.5C1118.6 1014.4 1119.0 1020.5 1119.6 1026.6C1120.2 1032.7 1120.8 1038.8 1121.4 1044.9C1122.1 1051.0 1122.8 1057.2 1123.6 1063.2C1124.4 1069.0 1125.2 1074.9 1126.3 1080.4C1127.4 1085.7 1128.7 1090.6 1130.2 1095.6C1131.6 1100.6 1133.3 1105.4 1135.0 1110.3C1136.9 1115.5 1138.8 1120.8 1141.1 1126.0C1143.4 1131.2 1146.0 1136.5 1148.9 1141.5C1151.8 1146.5 1155.1 1151.3 1158.5 1156.0C1161.8 1160.6 1165.4 1165.1 1169.1 1169.4C1172.9 1173.7 1176.9 1177.8 1181.1 1181.7C1185.3 1185.6 1189.7 1189.2 1194.2 1192.7C1198.7 1196.1 1203.3 1199.4 1208.0 1202.5C1212.5 1205.5 1217.3 1208.4 1221.8 1210.8C1225.9 1213.0 1230.0 1215.2 1233.7 1216.5C1236.7 1217.5 1239.5 1218.9 1242.3 1218.5C1245.2 1218.0 1247.9 1215.1 1250.6 1213.5C1253.1 1211.9 1255.5 1210.4 1257.9 1209.1C1260.1 1208.0 1262.1 1206.1 1264.3 1206.1C1266.7 1206.1 1269.2 1208.3 1271.6 1209.7C1274.2 1211.2 1276.7 1213.2 1279.3 1215.0C1282.1 1217.1 1284.8 1219.6 1287.8 1221.6C1290.8 1223.6 1294.0 1225.7 1297.3 1227.0C1300.5 1228.4 1303.9 1229.3 1307.3 1229.7C1310.7 1230.1 1314.5 1230.1 1317.7 1229.4C1320.8 1228.8 1324.0 1227.7 1326.3 1225.8C1328.4 1224.1 1329.9 1221.5 1331.2 1219.0C1332.5 1216.3 1333.1 1213.0 1334.0 1210.0" stroke="#000000"/>
<path d="M180.5 1397.5C203.7 1397.5 226.8 1397.5 250.1 1397.5C273.8 1397.5 299.0 1397.6 321.6 1397.4C342.1 1397.2 364.1 1397.3 379.9 1396.6C391.0 1396.1 400.3 1395.6 407.9 1394.6C413.3 1393.9 416.9 1392.8 421.5 1392.0C426.2 1391.1 431.0 1390.2 435.6 1389.3C439.8 1388.6 443.8 1387.8 447.7 1387.1C451.4 1386.5 455.1 1385.5 458.4 1385.6C461.4 1385.7 463.7 1387.1 466.9 1387.5C470.9 1388.2 475.9 1388.6 480.5 1388.6C485.3 1388.6 490.3 1387.9 495.2 1387.3C500.1 1386.7 505.0 1386.1 509.9 1385.2C514.9 1384.2 519.9 1383.0 524.8 1381.7C529.7 1380.4 534.7 1378.8 539.5 1377.2C544.2 1375.6 548.8 1373.8 553.4 1372.0C558.0 1370.2 562.4 1368.3 566.9 1366.3C571.4 1364.3 575.8 1362.1 580.3 1359.9C584.8 1357.7 589.3 1355.4 593.7 1352.9C598.2 1350.3 602.7 1347.7 607.1 1344.8C611.7 1341.9 616.1 1338.7 620.6 1335.4C625.1 1332.2 629.5 1328.7 634.0 1325.3C638.5 1322.0 643.0 1318.8 647.4 1315.3C651.9 1311.7 656.6 1308.0 660.9 1304.2C664.9 1300.6 668.9 1296.7 672.3 1293.3C675.3 1290.4 677.8 1287.6 680.4 1284.9C682.9 1282.3 685.2 1279.9 687.6 1277.2C690.1 1274.4 692.8 1271.5 695.2 1268.5C697.6 1265.3 699.9 1261.9 702.0 1258.4C704.1 1254.8 706.1 1251.0 707.9 1247.2C709.7 1243.3 711.3 1239.3 712.8 1235.2C714.3 1231.0 715.6 1226.8 716.9 1222.3C718.3 1217.4 719.5 1212.3 720.7 1206.9C721.9 1201.1 723.0 1194.8 724.0 1188.6C725.0 1182.2 725.8 1175.6 726.6 1169.1C727.5 1162.6 728.2 1155.9 729.0 1149.5C729.6 1143.5 730.2 1137.5 730.9 1131.8C731.5 1126.8 732.0 1122.0 732.7 1117.3C733.3 1112.8 733.9 1108.4 734.7 1104.2C735.4 1100.2 736.1 1096.3 737.0 1092.7C737.8 1089.3 738.8 1086.1 739.8 1083.1C740.7 1080.3 741.6 1077.6 742.7 1075.2C743.6 1073.2 744.6 1071.2 745.8 1069.7C746.8 1068.4 748.1 1066.6 749.3 1066.6C750.7 1066.6 752.3 1069.4 753.7 1071.0C755.2 1072.7 756.6 1074.7 758.1 1076.5C759.6 1078.3 761.1 1080.1 762.7 1081.7C764.2 1083.1 766.1 1085.8 767.6 1085.7C769.0 1085.6 770.5 1083.3 771.6 1081.6C772.9 1079.7 773.9 1077.3 774.7 1074.7C775.7 1071.6 776.3 1068.0 776.9 1064.5C777.6 1060.6 778.1 1056.5 778.6 1052.5C779.1 1048.7 779.6 1045.0 780.2 1041.0C780.8 1036.7 781.5 1032.5 782.1 1027.7C782.9 1022.1 783.7 1015.8 784.4 1009.4C785.1 1002.5 785.8 995.1 786.3 987.9C786.9 980.6 787.4 973.1 787.8 965.9C788.2 958.9 788.6 952.0 789.0 945.3C789.4 938.7 789.7 932.5 790.1 925.9C790.6 919.1 791.1 912.2 791.6 905.2C792.1 898.0 792.6 890.6 793.1 883.3C793.6 876.0 794.1 868.3 794.7 861.3C795.2 854.8 795.7 848.0 796.3 842.5C796.9 838.2 797.4 834.3 798.2 831.1C798.8 828.7 799.6 825.0 800.3 825.0C801.1 825.0 802.0 828.7 802.7 831.1C803.6 834.2 804.3 838.2 804.9 842.5C805.7 848.0 806.2 854.8 806.8 861.3C807.4 868.3 807.9 876.0 808.5 883.3C809.2 890.6 810.0 897.8 810.9 905.2C811.8 912.8 812.8 920.6 814.0 928.3C815.1 935.9 816.2 944.3 818.0 951.2C819.4 957.0 820.9 963.0 823.2 967.2C825.0 970.4 827.2 974.6 829.5 974.8C832.0 975.0 835.3 970.3 838.0 967.1C841.4 963.2 844.8 957.6 847.8 952.4C850.8 947.1 853.6 941.2 856.1 935.6C858.6 930.2 860.6 924.8 862.6 919.3C864.6 913.9 866.4 908.3 868.2 902.9C870.0 897.6 871.7 892.3 873.4 887.2C875.0 882.5 876.5 877.9 878.1 873.5C879.7 869.2 881.2 865.1 882.9 861.1C884.4 857.2 886.1 853.3 887.7 849.5C889.3 845.9 890.9 842.4 892.3 838.8C893.7 835.3 895.1 831.7 896.3 828.1C897.5 824.5 898.6 820.8 899.5 817.1C900.5 813.6 901.3 810.0 902.1 806.5C902.9 803.0 903.5 799.5 904.4 796.0C905.2 792.5 905.9 789.0 906.9 785.6C907.9 782.3 909.0 779.0 910.4 776.0C911.8 773.2 913.4 768.0 915.2 768.0C917.3 767.9 920.1 774.4 922.1 778.4C924.5 783.0 926.2 788.7 928.1 794.1C930.1 799.7 931.8 805.8 933.6 811.6C935.4 817.2 937.3 822.3 939.0 828.1C940.7 834.4 942.4 841.2 943.9 848.1C945.5 855.3 946.8 863.3 948.2 870.3C949.4 876.5 950.5 882.4 951.8 887.8C952.9 892.7 953.9 897.0 955.2 901.5C956.5 905.7 957.8 910.0 959.3 914.0C960.7 917.7 962.2 921.3 963.9 924.7C965.5 927.9 967.3 931.0 969.1 934.0C970.9 936.7 972.8 939.5 974.8 941.8C976.6 943.9 978.5 945.8 980.5 947.2C982.2 948.4 984.1 950.1 985.8 949.9C987.7 949.7 989.7 947.2 991.3 945.4C993.1 943.4 994.6 940.8 996.0 938.1C997.5 935.2 998.5 931.6 999.6 928.1C1000.7 924.4 1001.7 920.5 1002.6 916.5C1003.6 912.3 1004.5 908.0 1005.4 903.5C1006.3 898.8 1007.1 893.9 1007.9 889.0C1008.7 884.1 1009.4 879.2 1010.2 874.2C1011.0 869.1 1011.8 864.1 1012.5 858.7C1013.3 852.7 1014.1 846.4 1014.7 839.8C1015.4 832.7 1016.0 825.1 1016.6 817.6C1017.2 810.0 1017.8 802.1 1018.4 794.4C1019.0 786.7 1019.5 778.6 1020.1 771.2C1020.6 764.4 1021.1 757.2 1021.8 751.5C1022.3 747.3 1022.7 743.3 1023.6 740.4C1024.2 738.4 1025.2 735.5 1025.9 735.5C1026.6 735.5 1027.2 738.4 1027.7 740.4C1028.5 743.3 1029.0 747.3 1029.6 751.5C1030.3 757.2 1030.9 764.4 1031.6 771.2C1032.2 778.6 1032.8 786.7 1033.4 794.4C1034.0 802.1 1034.6 809.9 1035.2 817.6C1035.7 825.3 1036.3 832.9 1036.8 840.6C1037.3 848.2 1037.7 855.8 1038.1 863.4C1038.5 871.0 1038.9 878.7 1039.4 886.4C1039.9 894.1 1040.4 901.9 1041.0 909.6C1041.6 917.3 1042.2 925.1 1042.9 932.8C1043.7 940.5 1044.4 948.3 1045.4 956.0C1046.4 963.7 1047.5 971.6 1048.9 979.2C1050.2 986.6 1051.7 994.2 1053.5 1001.0C1055.2 1007.0 1057.0 1013.2 1059.2 1018.1C1061.0 1022.1 1063.0 1025.8 1065.2 1028.6C1067.0 1030.8 1069.0 1033.8 1071.0 1033.9C1073.0 1034.0 1075.3 1030.9 1077.2 1028.9C1079.3 1026.6 1081.0 1023.6 1082.7 1020.7C1084.4 1017.6 1085.7 1014.0 1087.2 1011.0C1088.6 1008.5 1089.7 1005.9 1091.1 1004.0C1092.3 1002.6 1093.7 1000.3 1094.8 1000.5C1096.1 1000.7 1097.3 1004.3 1098.3 1006.6C1099.5 1009.2 1100.5 1012.2 1101.4 1015.4C1102.4 1019.0 1103.1 1023.0 1103.8 1027.0C1104.6 1031.3 1105.1 1035.9 1105.8 1040.3C1106.4 1044.9 1107.0 1049.5 1107.6 1054.1C1108.2 1058.7 1108.8 1063.2 1109.4 1067.8C1110.0 1072.4 1110.6 1076.7 1111.2 1081.5C1111.8 1087.1 1112.4 1092.9 1113.1 1099.3C1113.9 1106.6 1114.9 1115.0 1115.8 1122.8C1116.8 1130.5 1117.8 1138.4 1118.8 1145.8C1119.8 1152.7 1120.8 1159.3 1121.8 1166.0C1122.9 1172.6 1123.9 1179.2 1125.2 1185.8C1126.5 1192.3 1127.8 1198.9 1129.6 1205.4C1131.3 1211.8 1133.3 1218.4 1135.7 1224.5C1137.9 1230.4 1140.5 1236.1 1143.3 1241.4C1145.9 1246.3 1148.8 1250.8 1151.8 1255.1C1154.6 1259.3 1157.6 1263.2 1160.8 1267.0C1163.9 1270.8 1167.3 1274.6 1170.5 1278.0C1173.5 1281.2 1176.5 1284.2 1179.5 1287.0C1182.3 1289.6 1185.0 1291.8 1188.0 1294.1C1191.1 1296.5 1194.5 1298.8 1198.0 1301.1C1201.6 1303.5 1205.5 1305.9 1209.2 1308.2C1212.8 1310.3 1216.4 1312.6 1220.1 1314.3C1223.6 1315.9 1227.1 1317.2 1230.7 1318.1C1234.2 1319.0 1237.9 1320.1 1241.3 1319.8C1244.5 1319.5 1247.4 1317.9 1250.4 1316.8C1253.3 1315.7 1256.1 1314.2 1258.9 1313.1C1261.7 1312.0 1264.4 1309.8 1267.2 1310.0C1270.3 1310.2 1273.5 1313.0 1276.6 1314.9C1279.9 1316.8 1283.0 1319.3 1286.3 1321.5C1289.7 1323.6 1293.0 1326.3 1296.6 1328.0C1300.1 1329.6 1303.8 1330.9 1307.5 1331.5C1311.1 1332.0 1315.0 1331.8 1318.4 1331.4C1321.6 1331.0 1324.7 1330.1 1327.5 1329.4C1329.9 1328.8 1331.8 1328.1 1334.0 1327.5" stroke="#ff00ff"/>
</g>
<g stroke="#000" stroke-width="2.5" stroke-dasharray="2.5 7.99" fill="none" shape-rendering="crispEdges">
<line x1="574" y1="714.4" x2="574" y2="1325"/>
<line x1="749" y1="476" x2="749" y2="1139.5"/>
<line x1="803" y1="222.5" x2="803" y2="884"/>
<line x1="915" y1="129.8" x2="915" y2="792"/>
<line x1="1021.5" y1="131.3" x2="1025" y2="784"/>
<line x1="1091" y1="394.3" x2="1092.3" y2="1056"/>
</g>
<g fill="#000">
<rect x="139" y="11" width="1200" height="6"/>
<rect x="139" y="11" width="5" height="1397"/>
<rect x="1334" y="11" width="5" height="1397"/>
<rect x="139" y="1403" width="1200" height="5"/>
<rect x="299.0" y="1405" width="5" height="26"/>
<rect x="498.0" y="1405" width="5" height="26"/>
<rect x="697.0" y="1405" width="5" height="26"/>
<rect x="896.0" y="1405" width="5" height="26"/>
<rect x="1095.0" y="1405" width="5" height="26"/>
<rect x="1294.0" y="1405" width="5" height="26"/>
<rect x="199.5" y="1405" width="5" height="13"/>
<rect x="398.5" y="1405" width="5" height="13"/>
<rect x="597.5" y="1405" width="5" height="13"/>
<rect x="796.5" y="1405" width="5" height="13"/>
<rect x="995.5" y="1405" width="5" height="13"/>
<rect x="1194.5" y="1405" width="5" height="13"/>
</g>
<g font-size="71" fill="#000">
<text x="301.5" y="1504" text-anchor="middle">5</text>
<text x="500.5" y="1504" text-anchor="middle">10</text>
<text x="699.5" y="1504" text-anchor="middle">15</text>
<text x="898.5" y="1504" text-anchor="middle">20</text>
<text x="1097.5" y="1504" text-anchor="middle">25</text>
<text x="1296.5" y="1504" text-anchor="middle">30</text>
</g>
<g font-size="52" fill="#000">
<text x="866.9" y="93">20.5</text>
<text x="977" y="121">23.2</text>
<text x="752.4" y="201" textLength="98.6" lengthAdjust="spacingAndGlyphs">17.5</text>
<text x="667.2" y="438.6" textLength="98.6" lengthAdjust="spacingAndGlyphs">16.2</text>
<text x="1055.2" y="385">24.9</text>
<text x="526.9" y="687">11.8</text>
</g>
<text x="150.7" y="790.6" fill="#00ff00" font-size="64">e</text>
<text x="190.6" y="790" fill="#00ff00" font-size="62.5">)</text>
<text x="152.5" y="919.4" fill="#ff0000" font-size="64">d</text>
<text x="191.9" y="919" fill="#ff0000" font-size="62.5">)</text>
<text x="152.2" y="1108.6" fill="#0000ff" font-size="64">c</text>
<text x="187.8" y="1107.7" fill="#0000ff" font-size="62.5">)</text>
<text x="152.9" y="1268.3" fill="#000000" font-size="64">b</text>
<text x="192.2" y="1268" fill="#000000" font-size="62.5">)</text>
<text x="151.9" y="1369.6" fill="#ff00ff" font-size="64">a</text>
<text x="190.9" y="1368.8" fill="#ff00ff" font-size="62.5">)</text>
<text x="548" y="1595" font-size="78.5" font-weight="bold" fill="#000">2 Theta [°]</text>
<text x="86.9" y="981.9" font-size="80.3" font-weight="bold" fill="#000" transform="rotate(-90 86.9 981.9)">Intensity [a.u.]</text>
</svg>
</body></html>
